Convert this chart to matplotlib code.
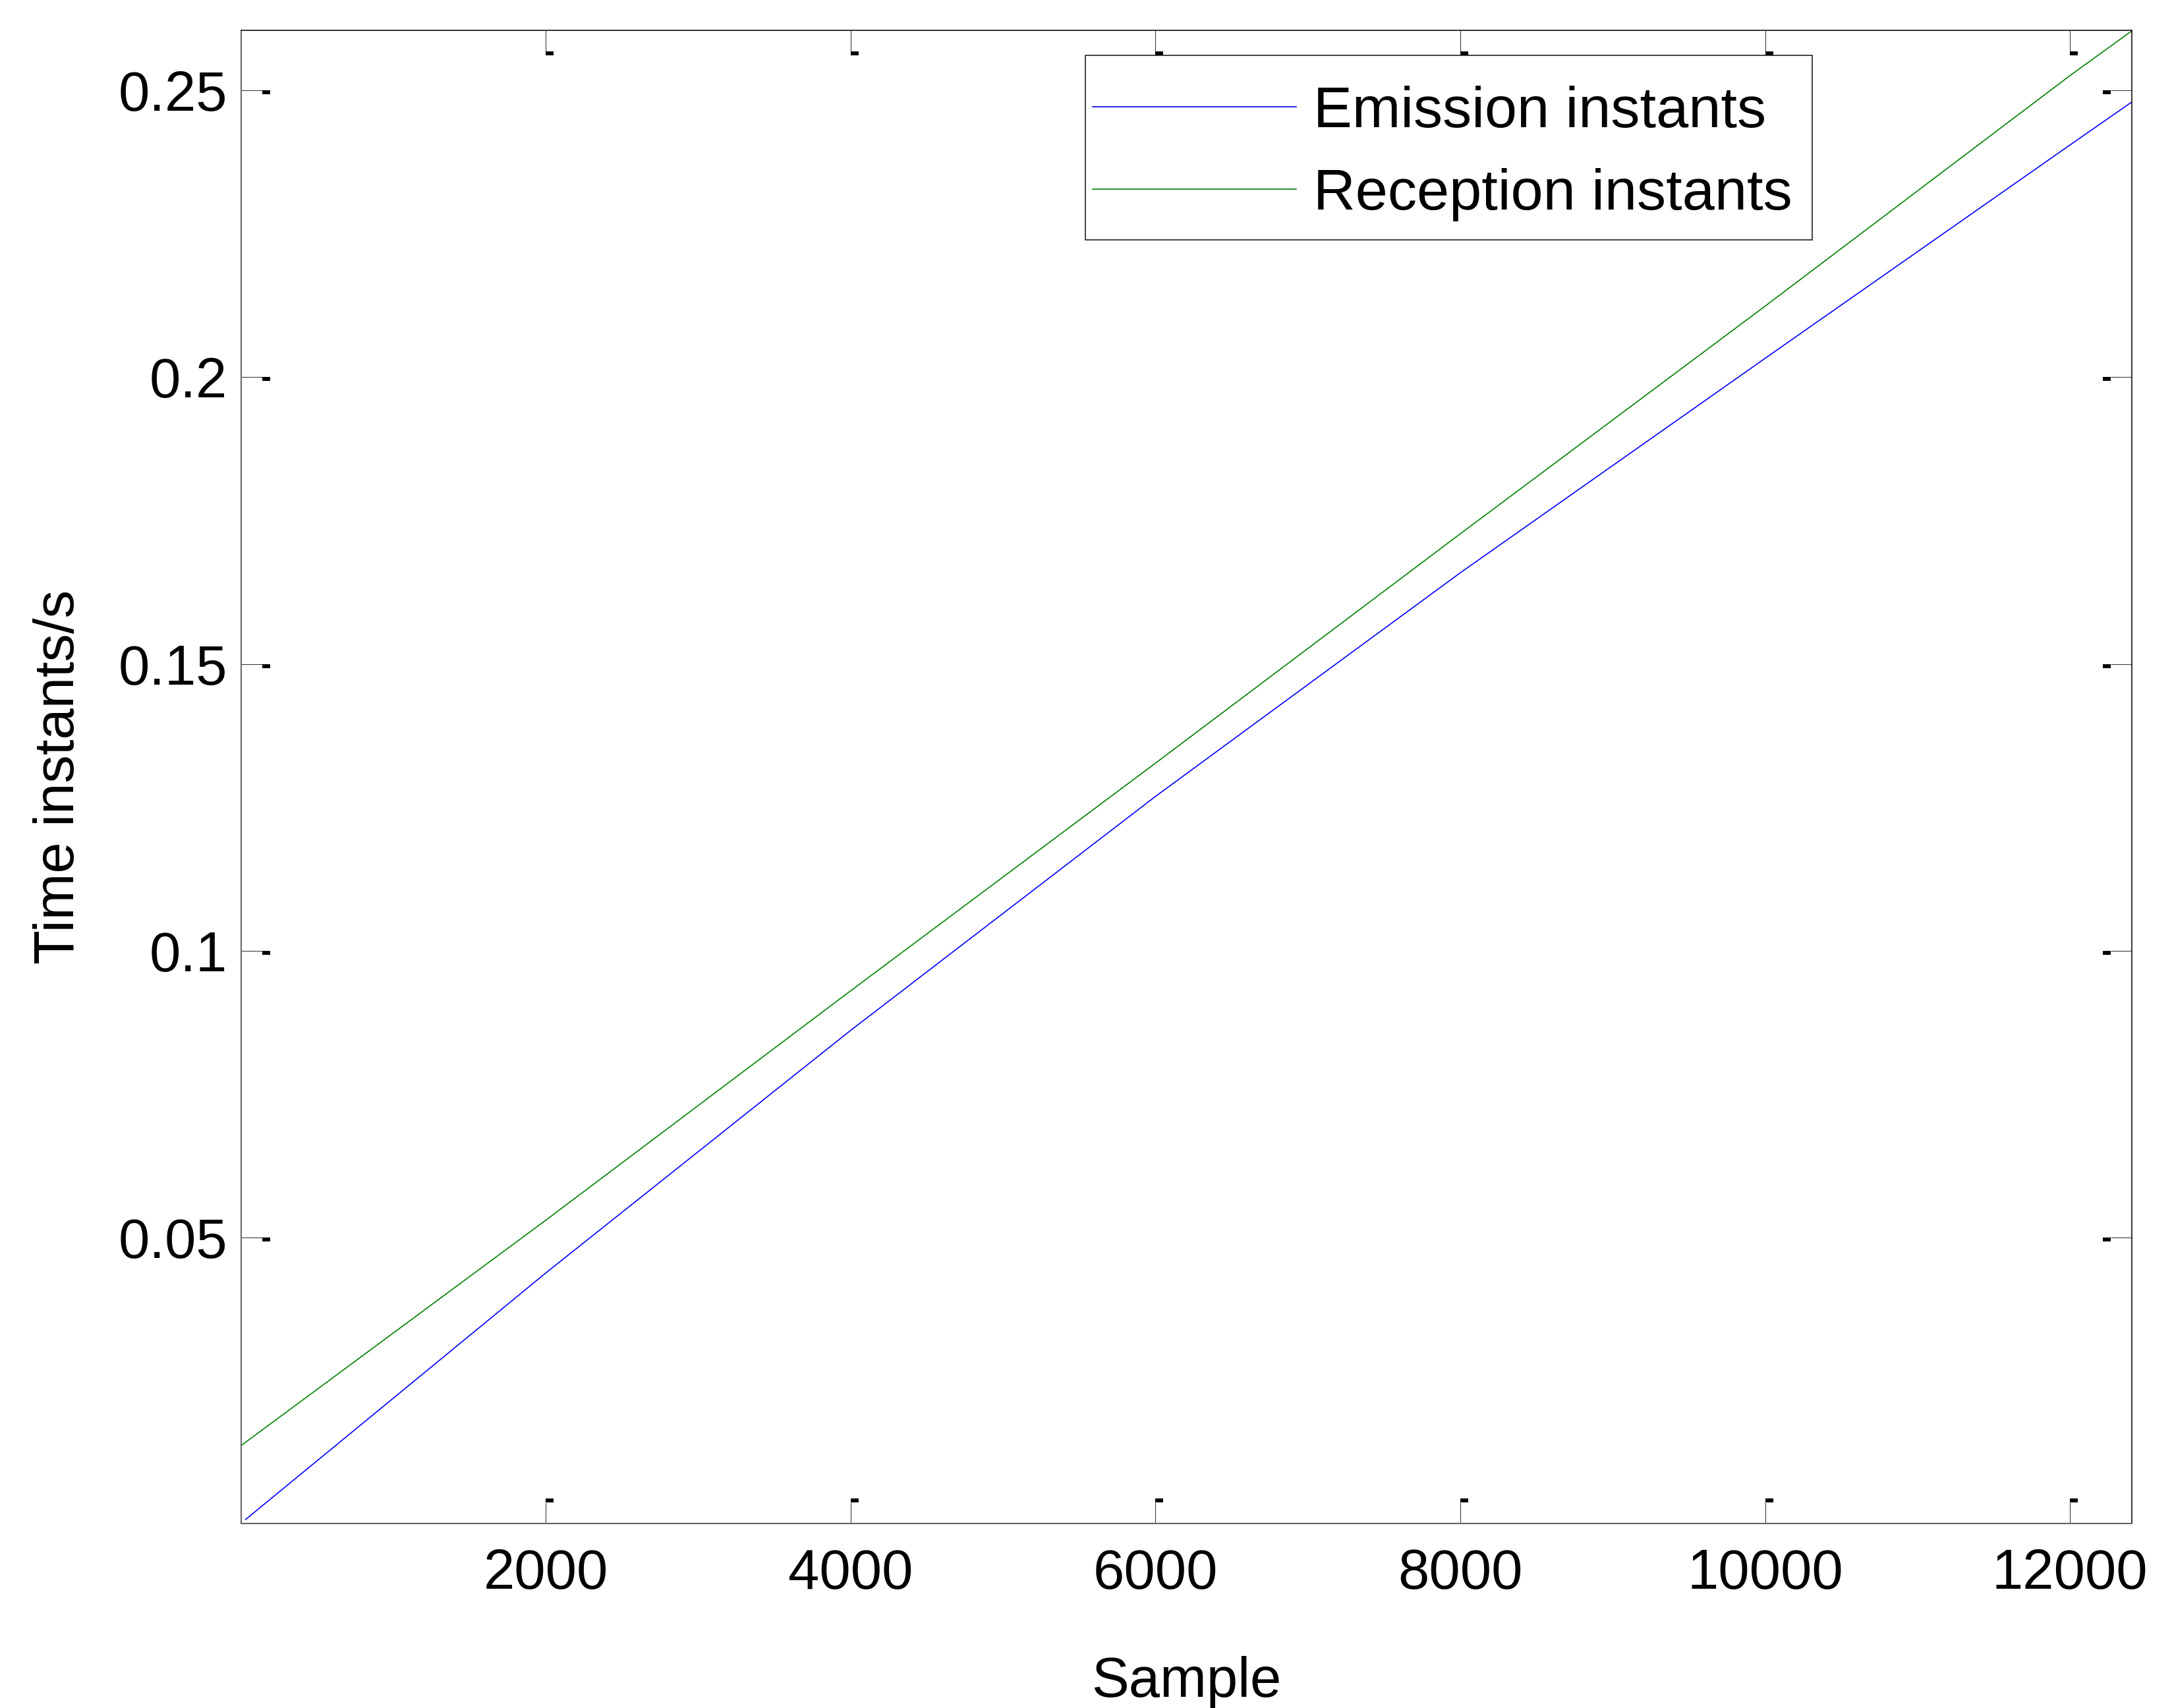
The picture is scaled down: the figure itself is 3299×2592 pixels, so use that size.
import matplotlib
matplotlib.use('Agg')
import matplotlib.pyplot as plt
from matplotlib.path import Path
from matplotlib.patches import Rectangle
from matplotlib.transforms import ScaledTranslation

plt.rcParams['font.family'] = ['Liberation Sans', 'DejaVu Sans']

# values (sample index -> time in s)
emission_x = [30, 2000, 4000, 6000, 8000, 10000, 12000, 12406]
emission_y = [0.0008, 0.0438, 0.0861, 0.1269, 0.1659, 0.2033, 0.2405, 0.2480]
reception_x = [1, 2000, 4000, 6000, 8000, 10000, 12000, 12406]
reception_y = [0.0137, 0.0530, 0.0930, 0.1327, 0.1727, 0.2124, 0.2526, 0.2604]

x_ticks = [2000, 4000, 6000, 8000, 10000, 12000]
y_ticks = [0.05, 0.1, 0.15, 0.2, 0.25]
y_tick_labels = ['0.05', '0.1', '0.15', '0.2', '0.25']

DPI = 300
fig = plt.figure(figsize=(3299 / DPI, 2592 / DPI), dpi=DPI)
ax = fig.add_axes([366 / 3299, 1 - 2312 / 2592, (3235 - 366) / 3299, (2312 - 46) / 2592])

FS = 20.4
ax.plot(emission_x, emission_y, color='#0000ff', lw=0.4, label='Emission instants')
ax.plot(reception_x, reception_y, color='#008000', lw=0.4, label='Reception instants')

ax.set_xlim(1, 12406)
ax.set_ylim(0.0001, 0.2605)
ax.set_xticks(x_ticks)
ax.set_xticklabels([str(t) for t in x_ticks])
ax.set_yticks(y_ticks)
ax.set_yticklabels(y_tick_labels)

TL = 32  # tick length in px
ax.tick_params(direction='in', length=TL * 72 / DPI, width=0.25, color='#333333',
               top=True, right=True, labelsize=FS)
ax.tick_params(axis='x', pad=9)
ax.tick_params(axis='y', pad=5)

for side in ['top', 'right']:
    ax.spines[side].set_color('#111111')
    ax.spines[side].set_linewidth(0.4)
for side in ['left', 'bottom']:
    ax.spines[side].set_color('#666666')
    ax.spines[side].set_linewidth(0.5)

ax.set_xlabel('Sample', fontsize=FS, labelpad=20)
ax.set_ylabel('Time instants/s', fontsize=FS, labelpad=12)

# little black blocks at the tick ends (as in the exported figure)
def rect(x0, y0, x1, y1):
    return Path([(x0, y0), (x1, y0), (x1, y1), (x0, y1), (x0, y0)], closed=True)

ms = 24 * 72 / DPI
off = TL / DPI
blk = dict(ls='none', color='black', ms=ms, mew=0, clip_on=False)
xt = ax.get_xaxis_transform()
yt = ax.get_yaxis_transform()
ax.plot(x_ticks, [0] * len(x_ticks), marker=rect(0, 0, 2, 1),
        transform=xt + ScaledTranslation(0, off, fig.dpi_scale_trans), **blk)
ax.plot(x_ticks, [1] * len(x_ticks), marker=rect(0, -1, 2, 0),
        transform=xt + ScaledTranslation(0, -off, fig.dpi_scale_trans), **blk)
ax.plot([0] * len(y_ticks), y_ticks, marker=rect(0, -1, 2, 0),
        transform=yt + ScaledTranslation(off, 0, fig.dpi_scale_trans), **blk)
ax.plot([1] * len(y_ticks), y_ticks, marker=rect(-2, -1, 0, 0),
        transform=yt + ScaledTranslation(-off, 0, fig.dpi_scale_trans), **blk)

# legend box drawn separately so the entries can sit where the original has them
ax.add_patch(Rectangle((0.4465, 0.8597), 0.3845, 0.1235, transform=ax.transAxes,
                       facecolor='white', edgecolor='#222222', lw=0.4, zorder=4))
leg = ax.legend(loc='upper left', bbox_to_anchor=(0.4503, 0.9628), borderaxespad=0,
                borderpad=0, fontsize=21.2, handlelength=3.5, handletextpad=0.29,
                labelspacing=0.49, frameon=False)
leg.set_zorder(5)

fig.savefig('out.png', dpi=DPI)
